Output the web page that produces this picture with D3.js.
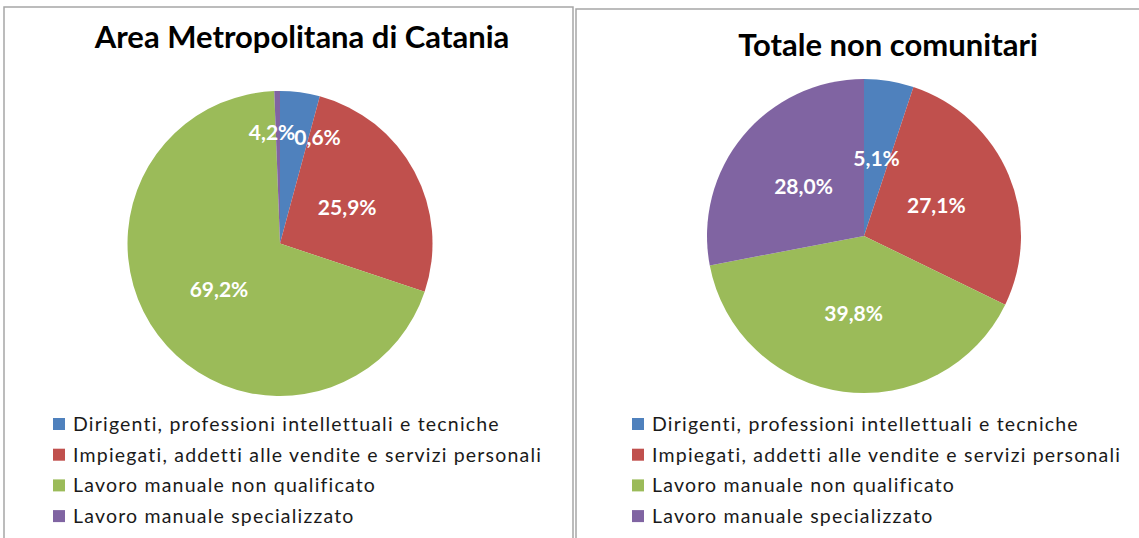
<!DOCTYPE html>
<html>
<head>
<meta charset="utf-8">
<script src="https://cdn.jsdelivr.net/npm/d3@7"></script>
<style>
  body { margin: 0; background: #fff; }
  svg { display: block; }
</style>
</head>
<body>
<svg id="chart" width="1139" height="538"></svg>
<script>
// categorie (legenda)
const categories = [
  "Dirigenti, professioni intellettuali e tecniche",
  "Impiegati, addetti alle vendite e servizi personali",
  "Lavoro manuale non qualificato",
  "Lavoro manuale specializzato"
];
// valori percentuali
const catania = [4.2, 25.9, 69.2, 0.6];
const nonComunitari = [5.1, 27.1, 39.8, 28.0];
const titles = ["Area Metropolitana di Catania", "Totale non comunitari"];

const colors = ["#4F81BD", "#C0504D", "#9BBB59", "#8064A2"];

// impaginazione dei due riquadri
const panels = [
  { values: catania, title: titles[0], left: 4, top: 7, right: 573,
    cx: 280, cy: 243.5, r: 152.5, titleX: 302, titleY: 48,
    legX: 53, legY: 424,
    nudge: [[-18, -35], [0, 0], [0, 0], [39, -30]] },
  { values: nonComunitari, title: titles[1], left: 576, top: 9, right: 1145,
    cx: 864, cy: 236, r: 157, titleX: 888, titleY: 56,
    legX: 632, legY: 424,
    nudge: [[0, 0], [0, 0], [0, 0], [0, 0]] }
];

const svg = d3.select("#chart");
const fmt = v => d3.format(".1f")(v).replace(".", ",") + "%";

panels.forEach(p => {
  const g = svg.append("g");

  // cornice
  g.append("rect")
    .attr("x", p.left).attr("y", p.top)
    .attr("width", p.right - p.left).attr("height", 560)
    .attr("fill", "#fff")
    .attr("stroke", "#a6a6a6").attr("stroke-width", 1.5);

  g.append("text")
    .attr("x", p.titleX).attr("y", p.titleY)
    .attr("text-anchor", "middle")
    .style("font-family", "Lato, 'Open Sans', sans-serif")
    .style("font-weight", "bold")
    .style("font-size", "31px")
    .style("fill", "#000")
    .text(p.title);

  const pie = d3.pie().sort(null).value(d => d);
  const arcs = pie(p.values);
  const arc = d3.arc().innerRadius(0).outerRadius(p.r);

  const pg = g.append("g").attr("transform", `translate(${p.cx},${p.cy})`);

  pg.selectAll("path")
    .data(arcs)
    .enter().append("path")
      .attr("d", arc)
      .attr("fill", (d, i) => colors[i]);

  // etichette percentuali
  pg.selectAll("text.lbl")
    .data(arcs)
    .enter().append("text")
      .attr("class", "lbl")
      .attr("x", (d, i) => arc.centroid(d)[0] + p.nudge[i][0])
      .attr("y", (d, i) => arc.centroid(d)[1] + p.nudge[i][1])
      .attr("dy", "0.36em")
      .attr("text-anchor", "middle")
      .style("font-family", "Lato, 'Open Sans', sans-serif")
      .style("font-weight", "bold")
      .style("font-size", "21px")
      .style("fill", "#fff")
      .text(d => fmt(d.data));

  // legenda
  const leg = g.selectAll("g.leg")
    .data(categories)
    .enter().append("g")
      .attr("class", "leg")
      .attr("transform", (d, i) => `translate(${p.legX},${p.legY + i * 30.7})`);

  leg.append("rect")
    .attr("x", 0).attr("y", -6)
    .attr("width", 12).attr("height", 12)
    .attr("fill", (d, i) => colors[i]);

  leg.append("text")
    .attr("x", 20).attr("y", 0)
    .attr("dy", "0.35em")
    .style("font-family", "Lato, 'Open Sans', sans-serif")
    .style("font-size", "19.5px")
    .style("letter-spacing", "1.2px")
    .style("fill", "#1a1a1a")
    .text(d => d);
});
</script>
</body>
</html>
